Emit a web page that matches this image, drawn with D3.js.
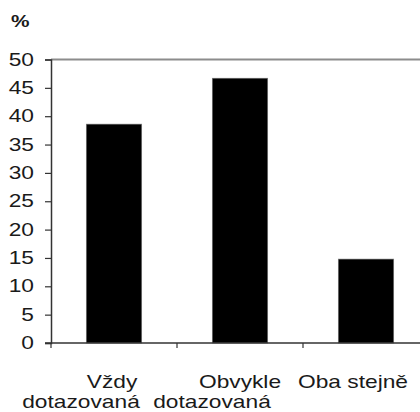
<!DOCTYPE html>
<html lang="cs">
<head>
<meta charset="UTF-8">
<script src="https://d3js.org/d3.v7.min.js"></script>
<style>
  body { margin: 0; background: #fff; }
  svg text { font-family: "Liberation Sans", Arial, sans-serif; fill: #1a1a1a; }
</style>
</head>
<body>
<script>
// data
var categories = ["Vždy dotazovaná", "Obvykle dotazovaná", "Oba stejně"]
var labelLines = [["Vždy", "dotazovaná"], ["Obvykle", "dotazovaná"], ["Oba stejně"]]
var values = [38.6, 46.7, 14.8]
var yTicks = [0, 5, 10, 15, 20, 25, 30, 35, 40, 45, 50]
var unitLabel = "%"

var width = 420, height = 412
var plot = { left: 51, right: 429, top: 59.5, bottom: 343 }
var sx = 1.3 // the source picture is stretched sideways
// small horizontal nudges of the category labels (line 1, line 2)
var labelShift = [[-2, -33], [0, -28], [-13, 0]]

var svg = d3.select("body").append("svg")
    .attr("width", width)
    .attr("height", height)

var x = d3.scaleBand()
    .domain(categories)
    .range([plot.left, plot.right])
    .paddingInner(0.56)
    .paddingOuter(0.28)

var y = d3.scaleLinear()
    .domain([0, 50])
    .range([plot.bottom, plot.top])

function stretchedText(g, tx, ty, str, anchor, size, weight) {
    g.append("text")
        .attr("transform", "translate(" + tx + "," + ty + ") scale(" + sx + ",1)")
        .attr("text-anchor", anchor)
        .attr("font-size", size)
        .attr("font-weight", weight || "normal")
        .text(str)
}

// top frame line
svg.append("line")
    .attr("x1", plot.left).attr("x2", plot.right)
    .attr("y1", plot.top).attr("y2", plot.top)
    .attr("stroke", "#8c8c8c").attr("stroke-width", 2)

// bars
svg.selectAll("rect.bar")
    .data(values)
    .enter()
    .append("rect")
    .attr("class", "bar")
    .attr("x", function (d, i) { return x(categories[i]) })
    .attr("width", x.bandwidth())
    .attr("y", function (d) { return y(d) })
    .attr("height", function (d) { return y(0) - y(d) })
    .attr("fill", "#000")
    .attr("stroke", "#777")
    .attr("stroke-width", 0.6)

// y axis
var yAxis = d3.axisLeft(y).tickValues(yTicks).tickSize(6).tickFormat("")
var yG = svg.append("g")
    .attr("transform", "translate(" + plot.left + ",0)")
    .call(yAxis)
yG.select(".domain").attr("stroke", "#333").attr("stroke-width", 1.5)
yG.selectAll(".tick line").attr("stroke", "#333").attr("stroke-width", 1.2)

var tickG = svg.append("g")
yTicks.forEach(function (t) {
    stretchedText(tickG, 34, y(t) + 6, String(t), "end", 17.5)
})

// x axis with tick marks between the categories
var xLine = svg.append("g")
xLine.append("line")
    .attr("x1", plot.left - 6).attr("x2", plot.right)
    .attr("y1", plot.bottom).attr("y2", plot.bottom)
    .attr("stroke", "#333").attr("stroke-width", 1.5)
var step = x.step()
xLine.selectAll("line.xt")
    .data(d3.range(categories.length + 1))
    .enter()
    .append("line")
    .attr("class", "xt")
    .attr("x1", function (i) { return plot.left + i * step })
    .attr("x2", function (i) { return plot.left + i * step })
    .attr("y1", plot.bottom)
    .attr("y2", plot.bottom + 5)
    .attr("stroke", "#333").attr("stroke-width", 1.2)

// category labels
var labG = svg.append("g")
labelLines.forEach(function (lines, i) {
    var cx = x(categories[i]) + x.bandwidth() / 2
    lines.forEach(function (ln, j) {
        stretchedText(labG, cx + labelShift[i][j], 388 + j * 20, ln, "middle", 17.5)
    })
})

// unit label
stretchedText(svg, 11, 27, unitLabel, "start", 16, "bold")
</script>
</body>
</html>
